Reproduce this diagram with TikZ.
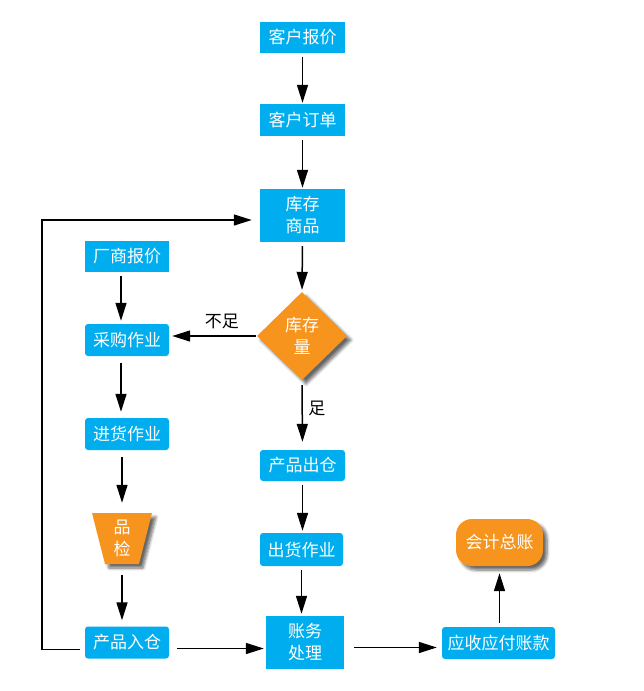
\documentclass[tikz,border=0pt]{standalone}
\usepackage{fontspec}
\setmainfont{Noto Sans CJK SC}
\usetikzlibrary{shapes.geometric,arrows.meta,shadows.blur}
\definecolor{cblue}{HTML}{00AEEF}
\definecolor{corange}{HTML}{F7941D}
\begin{document}
\begin{tikzpicture}[x=1pt,y=-1pt,
  bbox/.style={fill=cblue,text=white,inner sep=0pt,font=\fontsize{17}{22}\selectfont,align=center},
  rbox/.style={bbox,rounded corners=3pt},
  obox/.style={fill=corange,text=white,inner sep=0pt,font=\fontsize{17}{22}\selectfont,align=center,
     blur shadow={shadow xshift=4pt,shadow yshift=-4pt,shadow opacity=60,shadow blur steps=6,shadow blur radius=3pt}},
  arr/.style={line width=1.5pt,-{Triangle[length=18pt,width=11pt]}},
  lbl/.style={font=\fontsize{17}{20}\selectfont,text=black}
]
\useasboundingbox (0,0) rectangle (644,691);

\node[bbox,minimum width=85pt,minimum height=31pt] (kbj) at (302.5,37.5) {客户报价};
\node[bbox,minimum width=85pt,minimum height=32pt] (kdd) at (302.5,120) {客户订单};
\node[bbox,minimum width=85pt,minimum height=53pt] (kcs) at (302.5,215.5) {库存\\商品};
\node[bbox,minimum width=84pt,minimum height=31pt] (csbj) at (127,256.5) {厂商报价};
\node[rbox,minimum width=84pt,minimum height=32pt] (cg) at (127,340) {采购作业};
\node[rbox,minimum width=84pt,minimum height=32pt] (jh) at (127,434) {进货作业};
\node[obox,trapezium,shape border rotate=180,trapezium stretches=true,trapezium angle=80,
      minimum width=60pt,minimum height=51pt] (pj) at (122,538.5) {品\\检};
\node[rbox,minimum width=84pt,minimum height=32pt] (rc) at (127,642.5) {产品入仓};
\node[obox,diamond,minimum width=90pt,minimum height=88pt] (kcl) at (302,336) {库存\\量};
\node[rbox,minimum width=85pt,minimum height=31pt] (cc) at (302.5,465.5) {产品出仓};
\node[rbox,minimum width=83pt,minimum height=33pt] (ch) at (301.5,549.5) {出货作业};
\node[bbox,minimum width=78pt,minimum height=53pt] (zw) at (305,642.5) {账务\\处理};
\node[rbox,minimum width=113pt,minimum height=32pt] (ys) at (498.5,643) {应收应付账款};
\node[obox,rounded corners=16pt,minimum width=87pt,minimum height=47pt] (zz) at (499.5,542.5) {会计总账};

\coordinate (lp) at (42,0);

\draw[arr,shorten <=4pt,shorten >=1pt] (kbj.south) -- (kdd.north);
\draw[arr,shorten <=4pt,shorten >=1pt] (kdd.south) -- (kcs.north);
\draw[arr,shorten <=4pt,shorten >=2pt] (kcs.south) -- (kcl.north);
\draw[arr,shorten <=1pt,shorten >=3pt] (kcl.west) -- node[lbl,above=3pt,pos=0.4] (nz) {不足} (kcl.west -| cg.east);
\draw[arr,shorten <=5pt,shorten >=8pt] (kcl.south) -- node[lbl,right=2pt,pos=0.4] (zu) {足} (cc.north);
\draw[arr,shorten <=4pt,shorten >=2pt] (cc.south) -- (cc.south |- ch.north);
\draw[arr,shorten <=4pt,shorten >=2pt] (ch.south) -- (ch.south |- zw.north);
\draw[arr,shorten <=4pt,shorten >=3pt] ([xshift=-6pt]csbj.south) -- ([xshift=-6pt]cg.north);
\draw[arr,shorten <=7pt,shorten >=6pt] ([xshift=-6pt]cg.south) -- ([xshift=-6pt]jh.north);
\draw[arr,shorten <=7pt,shorten >=10pt] (jh.south -| pj.north) -- (pj.north);
\draw[arr,shorten <=11pt,shorten >=6pt] (pj.south) -- (pj.south |- rc.north);
\draw[arr,shorten <=8pt,shorten >=2pt] ([yshift=-6pt]rc.east) -- ([yshift=-6pt]rc.east -| zw.west);
\draw[arr,shorten <=10pt,shorten >=5pt] ([yshift=-5pt]zw.east) -- ([yshift=-5pt]zw.east -| ys.west);
\draw[arr,shorten <=4pt,shorten >=7pt] ([xshift=1pt]ys.north) -- ([xshift=1pt]ys.north |- zz.south);
\draw[arr,shorten <=5pt,shorten >=8pt] ([yshift=-7pt]rc.west) -- ([yshift=-7pt]rc.west -| lp) |- ([yshift=-4.5pt]kcs.west);
\end{tikzpicture}
\end{document}
